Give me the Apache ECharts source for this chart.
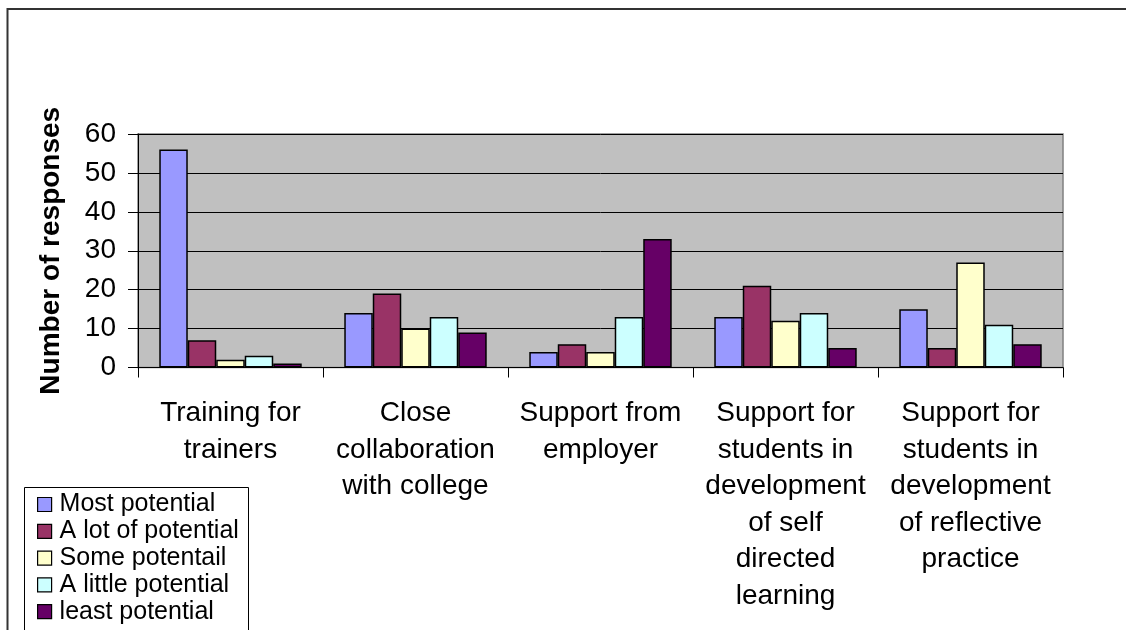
<!DOCTYPE html>
<html>
<head>
<meta charset="utf-8">
<script src="https://cdn.jsdelivr.net/npm/echarts@6/dist/echarts.min.js"></script>
<style>
html,body{margin:0;padding:0;background:#fff;}
#chart{width:1126px;height:630px;}
</style>
</head>
<body>
<div id="chart"></div>
<script>
const categories = [
  "Training for\ntrainers",
  "Close\ncollaboration\nwith college",
  "Support from\nemployer",
  "Support for\nstudents in\ndevelopment\nof self\ndirected\nlearning",
  "Support for\nstudents in\ndevelopment\nof reflective\npractice"
];
const seriesNames = ["Most potential", "A lot of potential", "Some potentail", "A little potential", "least potential"];
const mostPotential   = [56, 14, 4, 13, 15];
const aLotOfPotential = [7, 19, 6, 21, 5];
const somePotential   = [2, 10, 4, 12, 27];
const aLittlePotential= [3, 13, 13, 14, 11];
const leastPotential  = [1, 9, 33, 5, 6];
const yTicks = [0, 10, 20, 30, 40, 50, 60];

const seriesValues = [mostPotential, aLotOfPotential, somePotential, aLittlePotential, leastPotential];
const colors = ["#9999FF", "#993366", "#FFFFCC", "#CCFFFF", "#660066"];
const FONT = "Liberation Sans, Arial, sans-serif";

const chart = echarts.init(document.getElementById('chart'));
chart.setOption({
  animation: false,
  backgroundColor: '#ffffff',
  graphic: [{
    type: 'rect',
    shape: { x: 7.5, y: 9, width: 1300, height: 800 },
    style: { fill: 'none', stroke: '#333', lineWidth: 2 },
    silent: true, z: 100
  }, {
    type: 'rect',
    shape: { x: 24.5, y: 487.5, width: 224, height: 200 },
    style: { fill: '#fff', stroke: '#000', lineWidth: 1 },
    silent: true, z: 0
  }],
  grid: {
    left: 138, top: 134, right: 63, bottom: 262.5,
    show: true, backgroundColor: '#C0C0C0', borderColor: '#808080', borderWidth: 1.5
  },
  legend: {
    orient: 'vertical',
    left: 24, top: 487,
    padding: [5, 6, 0, 13],
    itemWidth: 14, itemHeight: 14, itemGap: 1.8,
    icon: 'rect',
    z: 5,
    itemStyle: { borderColor: '#000', borderWidth: 1.2 },
    textStyle: { fontFamily: FONT, fontSize: 25, color: '#000', lineHeight: 25, padding: [0, 0, 0, 3] },
    data: seriesNames
  },
  xAxis: {
    type: 'category',
    data: categories,
    axisLine: { lineStyle: { color: '#000', width: 1 } },
    axisTick: { show: true, length: 10, lineStyle: { color: '#000' } },
    axisLabel: { fontFamily: FONT, fontSize: 28, color: '#000', lineHeight: 36.5, margin: 28, interval: 0 },
    splitLine: { show: false }
  },
  yAxis: {
    type: 'value',
    min: yTicks[0], max: yTicks[yTicks.length - 1], interval: 10,
    name: 'Number of responses',
    nameLocation: 'middle',
    nameGap: 73,
    nameTextStyle: { fontFamily: FONT, fontSize: 28, fontWeight: 'bold', color: '#000' },
    axisLine: { show: true, lineStyle: { color: '#000', width: 1 } },
    axisTick: { show: true, length: 10, lineStyle: { color: '#000' } },
    axisLabel: { fontFamily: FONT, fontSize: 28, color: '#000', margin: 22 },
    splitLine: { show: true, lineStyle: { color: '#000', width: 1 } }
  },
  series: seriesNames.map((name, i) => ({
    name: name,
    type: 'bar',
    data: seriesValues[i],
    barGap: '0%',
    barCategoryGap: '23%',
    itemStyle: { color: colors[i], borderColor: '#000', borderWidth: 1.5 }
  }))
});
</script>
</body>
</html>
